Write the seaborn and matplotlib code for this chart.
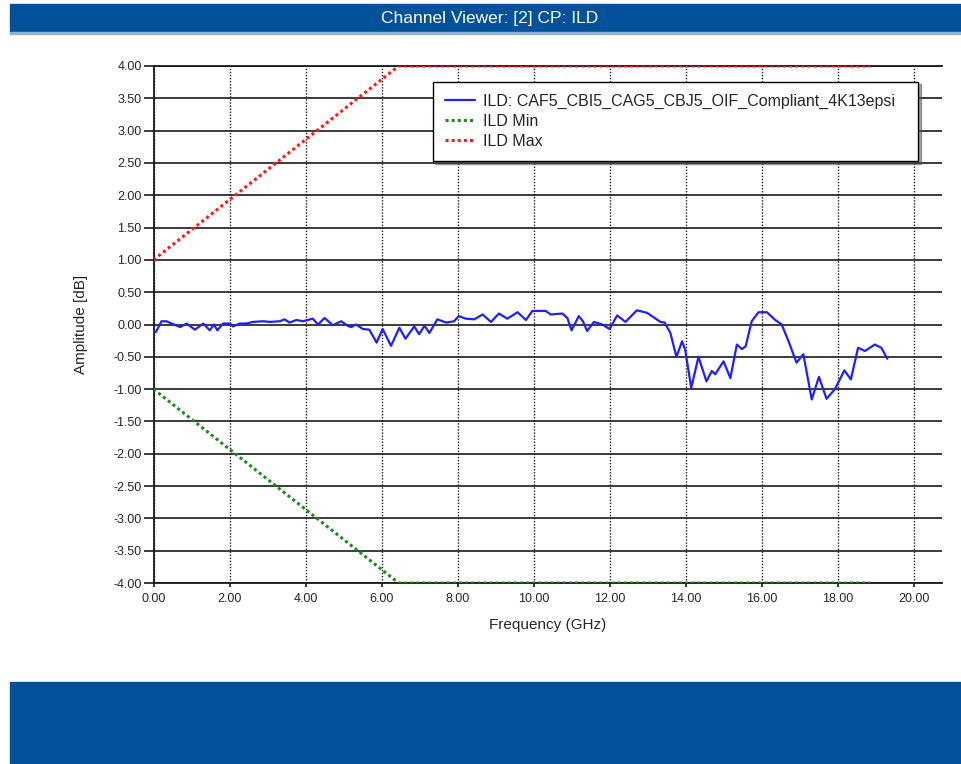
"""
ILD channel viewer plot (amplitude vs frequency with min/max limits).
"""

import matplotlib
matplotlib.use("Agg")
import matplotlib.pyplot as plt
import seaborn as sns
from matplotlib.patches import Rectangle
from matplotlib.ticker import FormatStrFormatter, MultipleLocator

# ILD trace (GHz, dB)
freq_ghz = [0.0, 0.07, 0.21, 0.34, 0.48, 0.70, 0.87, 1.09, 1.31, 1.48, 1.59, 1.68,
            1.83, 2.01, 2.09, 2.27, 2.44, 2.62, 2.88, 3.06, 3.32, 3.45, 3.58, 3.76,
            3.93, 4.19, 4.33, 4.50, 4.72, 4.94, 5.11, 5.20, 5.33, 5.51, 5.68, 5.87,
            6.03, 6.25, 6.47, 6.63, 6.86, 6.99, 7.13, 7.26, 7.47, 7.70, 7.91, 8.03,
            8.22, 8.44, 8.66, 8.88, 9.09, 9.31, 9.58, 9.80, 9.97, 10.32, 10.45, 10.76,
            10.89, 11.00, 11.19, 11.30, 11.41, 11.59, 11.81, 12.00, 12.20, 12.42, 12.72,
            12.99, 13.34, 13.45, 13.60, 13.76, 13.91, 13.99, 14.15, 14.34, 14.55, 14.69,
            14.78, 15.00, 15.18, 15.35, 15.48, 15.58, 15.74, 15.92, 16.14, 16.36, 16.53,
            16.71, 16.92, 17.10, 17.32, 17.51, 17.71, 17.93, 18.18, 18.35, 18.54, 18.72,
            18.98, 19.15, 19.31]
ild_db = [-0.13, -0.11, 0.05, 0.05, 0.015, -0.04, 0.015, -0.08, 0.015, -0.09, 0.0, -0.09,
          0.015, 0.015, -0.03, 0.015, 0.015, 0.04, 0.05, 0.04, 0.05, 0.08, 0.03, 0.07,
          0.05, 0.09, 0.0, 0.10, -0.01, 0.05, -0.02, -0.04, 0.0, -0.07, -0.08, -0.28,
          -0.07, -0.33, -0.05, -0.22, -0.03, -0.15, -0.02, -0.13, 0.08, 0.03, 0.05, 0.13,
          0.09, 0.08, 0.155, 0.04, 0.17, 0.09, 0.19, 0.07, 0.21, 0.21, 0.155, 0.17,
          0.10, -0.09, 0.13, 0.05, -0.10, 0.04, 0.0, -0.07, 0.14, 0.04, 0.22,
          0.18, 0.04, 0.03, -0.13, -0.50, -0.26, -0.39, -0.98, -0.50, -0.88, -0.72,
          -0.77, -0.57, -0.83, -0.31, -0.38, -0.34, 0.05, 0.19, 0.19, 0.07, 0.0,
          -0.26, -0.59, -0.46, -1.16, -0.81, -1.15, -1.00, -0.71, -0.85, -0.36, -0.41,
          -0.31, -0.36, -0.53]

# limit lines
limit_freq = [0.0, 6.45, 18.86]
ild_max = [1.0, 4.0, 4.0]
ild_min = [-1.0, -4.0, -4.0]

trace_label = "ILD: CAF5_CBI5_CAG5_CBJ5_OIF_Compliant_4K13epsi"
title = "Channel Viewer: [2] CP: ILD"
x_ticks = [0, 2, 4, 6, 8, 10, 12, 14, 16, 18, 20]

BAR_BLUE = "#03519a"

sns.set_style("white")
plt.rcParams["font.family"] = ["Liberation Sans", "DejaVu Sans"]
plt.rcParams["axes.unicode_minus"] = False

fig = plt.figure(figsize=(9.61, 7.64), dpi=100)
ax = fig.add_axes([153.5 / 961, 181 / 764, 788.2 / 961, 517 / 764])

# header and footer bars
fig.patches.append(Rectangle((10 / 961, 1 - 32 / 764), 1, 28 / 764,
                             transform=fig.transFigure, color=BAR_BLUE, zorder=0))
fig.patches.append(Rectangle((10 / 961, 1 - 33.5 / 764), 1, 1.5 / 764,
                             transform=fig.transFigure, color="#8fb1d4", zorder=0))
fig.patches.append(Rectangle((10 / 961, 0), 1, 82 / 764,
                             transform=fig.transFigure, color=BAR_BLUE, zorder=0))
fig.text(490 / 961, 1 - 19 / 764, title, color="white", fontsize=12.5,
         ha="center", va="center")

sns.lineplot(x=freq_ghz, y=ild_db, ax=ax, color="#1f1fff", lw=1.6,
             label=trace_label, zorder=5)
sns.lineplot(x=limit_freq, y=ild_min, ax=ax, color="#1e8a1e", lw=2.2,
             linestyle=(0, (1, 1)), label="ILD Min", zorder=4)
sns.lineplot(x=limit_freq, y=ild_max, ax=ax, color="#ff1a1a", lw=2.2,
             linestyle=(0, (1, 1)), label="ILD Max", zorder=4)

ax.set_xlim(0, 20.74)
ax.set_ylim(-4, 4)
ax.set_xticks(x_ticks)
ax.yaxis.set_major_locator(MultipleLocator(0.5))
ax.xaxis.set_major_formatter(FormatStrFormatter("%.2f"))
ax.yaxis.set_major_formatter(FormatStrFormatter("%.2f"))

ax.grid(True, axis="y", color="#1a1a1a", lw=1.2, ls="-")
ax.grid(True, axis="x", color="#1a1a1a", lw=1.0, ls=(0, (1, 1.2)))
ax.set_axisbelow(True)

for side in ["left", "top", "bottom"]:
    ax.spines[side].set_color("#1a1a1a")
    ax.spines[side].set_linewidth(1.3)
ax.spines["right"].set_visible(False)

ax.tick_params(axis="y", which="major", left=True, length=7, width=1.2,
               pad=1.5, labelsize=9, color="#1a1a1a")
ax.tick_params(axis="x", which="major", bottom=True, length=3, width=1.2,
               pad=4, labelsize=9, color="#1a1a1a")

ax.set_xlabel("Frequency (GHz)", fontsize=11)
ax.set_ylabel("Amplitude [dB]", fontsize=11)
ax.xaxis.set_label_coords(0.5, -0.068)
ax.yaxis.set_label_coords(-0.083, 0.5)

# legend box spans x 433..918 px, top at 82 px
leg = ax.legend(loc="upper left", bbox_to_anchor=(0.354, 0.970, 0.6157, 0.0),
                mode="expand", borderaxespad=0,
                fontsize=11.5, frameon=True, fancybox=False, shadow=True,
                handlelength=1.9, handletextpad=0.5, labelspacing=0.32,
                borderpad=0.75)
leg.get_frame().set_edgecolor("black")
leg.get_frame().set_linewidth(1.0)

plt.savefig("out.png", dpi=100)
plt.close()
